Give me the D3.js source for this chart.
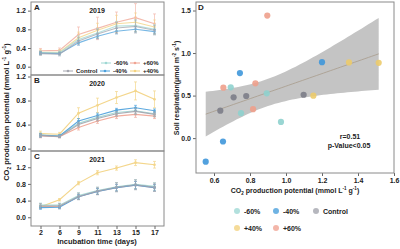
<!DOCTYPE html>
<html>
<head>
<meta charset="utf-8">
<script src="https://cdn.jsdelivr.net/npm/d3@7"></script>
<style>
  body { margin:0; background:#fff; }
  svg text { font-family:"Liberation Sans", Arial, sans-serif; font-weight:bold; fill:#222; }
</style>
</head>
<body>
<div id="chart"></div>
<script>
/* Data */
var days = ["2","6","9","11","13","15","17"];
var groups = ["Control","-60%","-40%","+40%","+60%"];
var groupColors = ["#a4a5ae","#9fd8d4","#4ba0dc","#f3d27f","#f0a493"];
var scatColors = ["#7c7d88","#8fd2ce","#3f97da","#eccb6c","#eea08c"];

// rows follow the groups order
var mean2019 = [
  [0.28,0.27,0.55,0.70,0.83,0.86,0.78],
  [0.30,0.30,0.58,0.72,0.87,0.88,0.80],
  [0.29,0.28,0.51,0.65,0.76,0.80,0.75],
  [0.31,0.31,0.62,0.78,0.92,0.95,0.85],
  [0.34,0.35,0.69,0.82,0.95,1.05,0.92]];
var err2019 = [
  [0.04,0.04,0.08,0.10,0.12,0.14,0.10],
  [0.04,0.04,0.08,0.10,0.10,0.12,0.10],
  [0.03,0.03,0.05,0.05,0.06,0.06,0.05],
  [0.05,0.05,0.12,0.15,0.18,0.20,0.15],
  [0.05,0.05,0.16,0.24,0.22,0.30,0.21]];

var mean2020 = [
  [0.22,0.20,0.40,0.50,0.58,0.62,0.57],
  [0.23,0.21,0.42,0.52,0.60,0.63,0.58],
  [0.22,0.21,0.46,0.55,0.64,0.68,0.63],
  [0.25,0.24,0.59,0.72,0.85,0.96,0.82],
  [0.21,0.20,0.35,0.46,0.54,0.57,0.54]];
var err2020 = [
  [0.03,0.02,0.04,0.04,0.04,0.05,0.04],
  [0.03,0.02,0.04,0.04,0.04,0.05,0.04],
  [0.03,0.02,0.04,0.04,0.03,0.04,0.03],
  [0.04,0.03,0.09,0.12,0.10,0.15,0.14],
  [0.03,0.02,0.04,0.04,0.04,0.05,0.04]];

var mean2021 = [
  [0.27,0.27,0.50,0.63,0.72,0.78,0.72],
  [0.29,0.29,0.52,0.64,0.73,0.79,0.74],
  [0.23,0.24,0.49,0.62,0.71,0.77,0.71],
  [0.25,0.42,0.82,1.07,1.18,1.31,1.26],
  [0.26,0.26,0.49,0.62,0.71,0.77,0.71]];
var err2021 = [
  [0.06,0.06,0.08,0.09,0.11,0.12,0.10],
  [0.05,0.05,0.07,0.08,0.10,0.11,0.09],
  [0.04,0.04,0.06,0.07,0.08,0.09,0.08],
  [0.03,0.03,0.04,0.05,0.05,0.07,0.08],
  [0.04,0.04,0.06,0.07,0.08,0.09,0.08]];

var years = ["2019","2020","2021"];
var yTicks = [0, 0.4, 0.8, 1.2];

// panel D scatter
var scatX = [0.693,0.893,0.750,0.972, 1.200,0.744,0.650,0.554, 0.709,0.779,1.098,0.635, 1.350,1.515,1.152, 0.896,0.652,0.830,0.817];
var scatY = [0.597,0.527,0.293,0.190, 0.893,0.765,-0.040,-0.277, 0.480,0.495,0.510,0.323, 0.890,0.885,0.499, 1.440,0.593,0.644,0.340];
var scatGroup = ["-60%","-60%","-60%","-60%", "-40%","-40%","-40%","-40%", "Control","Control","Control","Control", "+40%","+40%","+40%", "+60%","+60%","+60%","+60%"];
var dXTicks = [0.6,0.8,1.0,1.2,1.4,1.6];
var dYTicks = [0.0,0.5,1.0,1.5];

var W = 400, H = 249;
var svg = d3.select("#chart").append("svg")
  .attr("width", W).attr("height", H);

var colorOf = d3.scaleOrdinal().domain(groups).range(groupColors);
var dotColorOf = d3.scaleOrdinal().domain(groups).range(scatColors);

// write text with sub/superscripts: parts = [[text, shift]] shift 1 = sup, -1 = sub
function richText(t, parts, size) {
  var cur = 0;
  parts.forEach(function(p){
    var target = p[1] === 1 ? -size*0.4 : (p[1] === -1 ? size*0.25 : 0);
    t.append("tspan")
      .attr("dy", target - cur)
      .attr("font-size", p[1] === 0 ? size : size*0.65)
      .text(p[0]);
    cur = target;
  });
}

/* Left panels A, B, C */
var lx = d3.scalePoint().domain(days).range([31,164]).padding(0.5);
var panels = [
  { letter:"A", top:2,   bottom:75,  dom:[-0.178,1.385], mean:mean2019, err:err2019 },
  { letter:"B", top:75,  bottom:151, dom:[-0.04,1.225],  mean:mean2020, err:err2020 },
  { letter:"C", top:151, bottom:226, dom:[-0.21,1.59],   mean:mean2021, err:err2021 }
];
var drawOrder = [4,3,1,2,0];

panels.forEach(function(p, pi){
  var y = d3.scaleLinear().domain(p.dom).range([p.bottom, p.top]);
  var g = svg.append("g");

  var yAxis = g.append("g").attr("transform","translate(31,0)")
    .call(d3.axisLeft(y).tickValues(yTicks).tickFormat(d3.format(".1f")).tickSize(3).tickPadding(2));
  yAxis.select(".domain").remove();
  yAxis.selectAll("line").attr("stroke","#666");
  yAxis.selectAll("text").attr("font-size",7).attr("fill","#222")
    .attr("font-family","Liberation Sans, Arial, sans-serif").attr("font-weight","bold");

  drawOrder.forEach(function(gi){
    var c = colorOf(groups[gi]);
    var m = p.mean[gi], e = p.err[gi];
    var pts = days.map(function(d,i){ return {d:d, v:m[i], e:e[i]}; });
    var s = g.append("g").attr("opacity", pi === 0 ? 0.75 : 0.9);
    s.selectAll(".eb").data(pts).enter().append("path")
      .attr("d", function(q){
        var x0 = lx(q.d), y1 = y(q.v + q.e), y2 = y(q.v - q.e);
        return "M"+x0+","+y1+"V"+y2+"M"+(x0-1.5)+","+y1+"H"+(x0+1.5)+"M"+(x0-1.5)+","+y2+"H"+(x0+1.5);
      })
      .attr("stroke", c).attr("stroke-width",0.7).attr("fill","none");
    s.append("path").datum(pts)
      .attr("d", d3.line().x(function(q){return lx(q.d);}).y(function(q){return y(q.v);}))
      .attr("stroke", c).attr("stroke-width",1.1).attr("fill","none");
    s.selectAll(".pt").data(pts).enter().append("circle")
      .attr("cx", function(q){return lx(q.d);}).attr("cy", function(q){return y(q.v);})
      .attr("r",1.3).attr("fill", c);
  });

  g.append("rect").attr("x",31).attr("y",p.top).attr("width",133).attr("height",p.bottom-p.top)
    .attr("fill","none").attr("stroke","#8a8a8a").attr("stroke-width",1);
  g.append("text").attr("x",34).attr("y",p.top+8).attr("font-size",8).text(p.letter);
  g.append("text").attr("x",97).attr("y",p.top+11).attr("text-anchor","middle")
    .attr("font-size",7).text(years[pi]);
});

// x axis of panel C
var xAxisG = svg.append("g").attr("transform","translate(0,226)")
  .call(d3.axisBottom(lx).tickSize(3).tickPadding(1));
xAxisG.select(".domain").remove();
xAxisG.selectAll("line").attr("stroke","#666");
xAxisG.selectAll("text").attr("font-size",7).attr("fill","#222")
  .attr("font-family","Liberation Sans, Arial, sans-serif").attr("font-weight","bold");

svg.append("text").attr("x",97).attr("y",244).attr("text-anchor","middle")
  .attr("font-size",7.5).text("Incubation time (days)");

var ltitle = svg.append("text").attr("text-anchor","middle")
  .attr("transform","translate(9,112) rotate(-90)");
richText(ltitle, [["CO",0],["2",-1],[" production potential (mmol L",0],["-1",1],[" g",0],["-1",1],[")",0]], 7.5);

// legend of panel A
var legA = [
  { g:"-60%",    x:101, y:63 }, { g:"+60%", x:130, y:63 },
  { g:"Control", x:63,  y:71 }, { g:"-40%", x:100, y:71 }, { g:"+40%", x:130, y:71 }
];
legA.forEach(function(l){
  var c = colorOf(l.g);
  svg.append("line").attr("x1",l.x).attr("x2",l.x+10).attr("y1",l.y).attr("y2",l.y)
    .attr("stroke",c).attr("stroke-width",1);
  svg.append("circle").attr("cx",l.x+5).attr("cy",l.y).attr("r",1.3).attr("fill",c);
  svg.append("text").attr("x",l.x+13).attr("y",l.y+2).attr("font-size",6).text(l.g);
});

/* Panel D */
var dx = d3.scaleLinear().domain([0.5,1.6]).range([196,394]);
var dy = d3.scaleLinear().domain([-0.41,1.6]).range([173,2]);
var dg = svg.append("g");

// least squares fit with 95% confidence band
var n = scatX.length;
var mx = d3.mean(scatX), my = d3.mean(scatY);
var sxx = d3.sum(scatX, function(v){ return (v-mx)*(v-mx); });
var sxy = d3.sum(scatX, function(v,i){ return (v-mx)*(scatY[i]-my); });
var slope = sxy/sxx, icpt = my - slope*mx;
var sse = d3.sum(scatX, function(v,i){ var r = scatY[i]-(icpt+slope*v); return r*r; });
var se = Math.sqrt(sse/(n-2));
var tval = 2.11;
var fitX = d3.range(0,51).map(function(i){
  return d3.min(scatX) + (d3.max(scatX)-d3.min(scatX))*i/50;
});
var band = fitX.map(function(v){
  var f = icpt + slope*v;
  var h = tval*se*Math.sqrt(1/n + (v-mx)*(v-mx)/sxx);
  return {x:v, f:f, lo:f-h, hi:f+h};
});
dg.append("path").datum(band)
  .attr("d", d3.area().x(function(b){return dx(b.x);}).y0(function(b){return dy(b.lo);}).y1(function(b){return dy(b.hi);}))
  .attr("fill","#c4c4c4");
dg.append("path").datum(band)
  .attr("d", d3.line().x(function(b){return dx(b.x);}).y(function(b){return dy(b.f);}))
  .attr("stroke","#a89c8c").attr("stroke-width",0.8).attr("fill","none");

dg.selectAll(".dot").data(scatX).enter().append("circle")
  .attr("cx", function(v){ return dx(v); })
  .attr("cy", function(v,i){ return dy(scatY[i]); })
  .attr("r",3.1)
  .attr("fill", function(v,i){ return dotColorOf(scatGroup[i]); })
  .attr("opacity",0.9);

var dxa = dg.append("g").attr("transform","translate(0,173)")
  .call(d3.axisBottom(dx).tickValues(dXTicks).tickFormat(d3.format(".1f")).tickSize(3).tickPadding(2));
var dya = dg.append("g").attr("transform","translate(196,0)")
  .call(d3.axisLeft(dy).tickValues(dYTicks).tickFormat(d3.format(".1f")).tickSize(3).tickPadding(2));
[dxa, dya].forEach(function(a){
  a.select(".domain").remove();
  a.selectAll("line").attr("stroke","#666");
  a.selectAll("text").attr("font-size",7).attr("fill","#222")
    .attr("font-family","Liberation Sans, Arial, sans-serif").attr("font-weight","bold");
});
dg.append("rect").attr("x",196).attr("y",2).attr("width",198).attr("height",171)
  .attr("fill","none").attr("stroke","#8a8a8a").attr("stroke-width",1);
dg.append("text").attr("x",198).attr("y",10).attr("font-size",8).text("D");

dg.append("text").attr("x",350).attr("y",139).attr("text-anchor","middle").attr("font-size",7).text("r=0.51");
dg.append("text").attr("x",349).attr("y",147.5).attr("text-anchor","middle").attr("font-size",7).text("p-Value<0.05");

var dxt = dg.append("text").attr("x",295).attr("y",193).attr("text-anchor","middle");
richText(dxt, [["CO",0],["2",-1],[" production potential (mmol L",0],["-1",1],[" g",0],["-1",1],[")",0]], 7);
var dyt = dg.append("text").attr("text-anchor","middle").attr("transform","translate(179,88) rotate(-90)");
richText(dyt, [["Soil respiration(μmol m",0],["-2",1],[" s",0],["-1",1],[")",0]], 7);

// legend of panel D
var legD = [
  { g:"-60%", x:237, y:211 }, { g:"-40%", x:276, y:211 }, { g:"Control", x:316, y:211 },
  { g:"+40%", x:237, y:228 }, { g:"+60%", x:276, y:228 }
];
legD.forEach(function(l){
  dg.append("circle").attr("cx",l.x).attr("cy",l.y).attr("r",3).attr("fill",colorOf(l.g)).attr("opacity",0.8);
  dg.append("text").attr("x",l.x+7).attr("y",l.y+2.5).attr("font-size",7).text(l.g);
});
</script>
</body>
</html>
